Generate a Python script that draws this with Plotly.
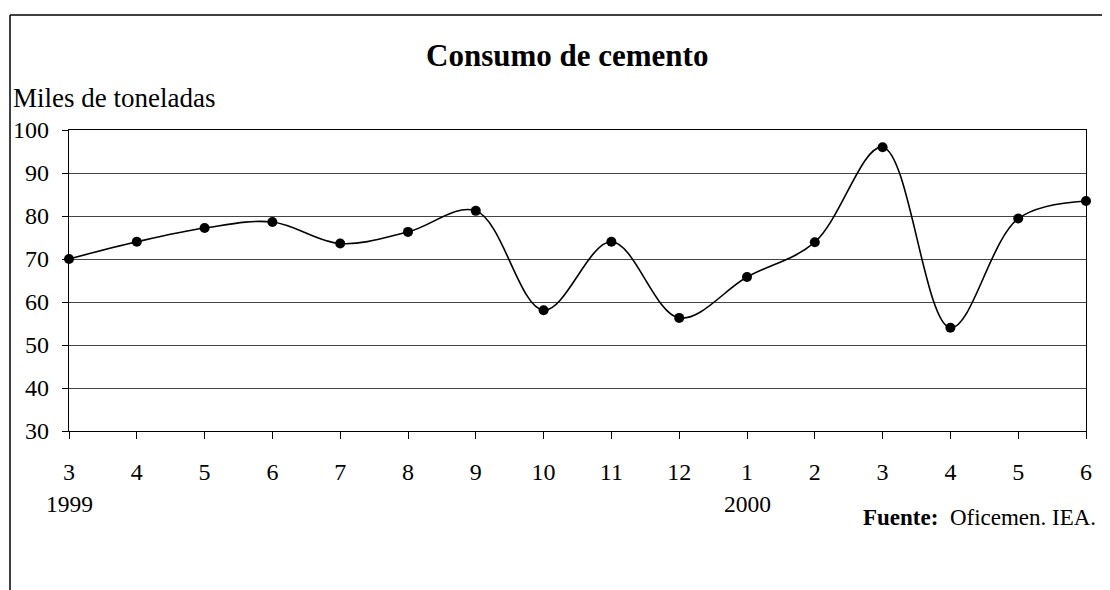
import plotly.graph_objects as go

month_labels = ["3", "4", "5", "6", "7", "8", "9", "10", "11", "12", "1", "2", "3", "4", "5", "6"]
consumo = [70.0, 74.0, 77.2, 78.6, 73.6, 76.3, 81.2, 58.1, 74.0, 56.3, 65.8, 73.9, 96.0, 54.0, 79.4, 83.5]
year_labels = [(0, "1999"), (10, "2000")]
y_ticks = [30, 40, 50, 60, 70, 80, 90, 100]

FONT = "Liberation Serif, Times New Roman, serif"
x_idx = list(range(len(month_labels)))

fig = go.Figure()
fig.add_trace(go.Scatter(
    x=x_idx, y=consumo, mode="lines+markers",
    line=dict(color="black", width=1.6, shape="spline", smoothing=1.0),
    marker=dict(color="black", size=10),
    cliponaxis=False, showlegend=False,
))

annotations = [
    dict(text="<b>Consumo de cemento</b>", x=0.49, y=1.0, xref="paper", yref="paper",
         yshift=75, showarrow=False, font=dict(family=FONT, size=31, color="black"),
         xanchor="center", yanchor="middle"),
    dict(text="Miles de toneladas", x=0, y=1.0, xref="paper", yref="paper",
         xshift=-58, yshift=32, showarrow=False, font=dict(family=FONT, size=27, color="black"),
         xanchor="left", yanchor="middle"),
    dict(text="<b>Fuente:</b>  Oficemen. IEA.", x=1.0, y=0, xref="paper", yref="paper",
         xshift=12, yshift=-86, showarrow=False, font=dict(family=FONT, size=23, color="black"),
         xanchor="right", yanchor="middle"),
]
for xi, yl in year_labels:
    annotations.append(dict(text=yl, x=xi, y=0, xref="x", yref="paper", yshift=-73,
                            showarrow=False, font=dict(family=FONT, size=23.5, color="black"),
                            xanchor="center", yanchor="middle"))

fig.update_layout(
    width=1102, height=582,
    margin=dict(l=61, r=24, t=122, b=159, autoexpand=False),
    paper_bgcolor="white", plot_bgcolor="white",
    font=dict(family=FONT, size=24, color="black"),
    annotations=annotations,
    shapes=[
        dict(type="line", xref="paper", yref="paper", x0=-0.058, x1=1.05,
             y0=1.382, y1=1.382, line=dict(color="black", width=1.5)),
        dict(type="line", xref="paper", yref="paper", x0=-0.058, x1=-0.058,
             y0=1.382, y1=-0.6, line=dict(color="black", width=1.5)),
    ],
)
fig.update_xaxes(
    range=[0, 15], tickvals=x_idx, ticktext=month_labels,
    showgrid=False, zeroline=False, automargin=False,
    showline=True, linecolor="black", linewidth=1.2, mirror=True,
    ticks="outside", ticklen=7, tickcolor="black", ticklabelstandoff=12,
    tickfont=dict(family=FONT, size=24, color="black"),
)
fig.update_yaxes(
    range=[30, 100], tickvals=y_ticks,
    showgrid=True, gridcolor="#444444", gridwidth=1, zeroline=False, automargin=False,
    showline=True, linecolor="black", linewidth=1.2, mirror=True,
    ticks="outside", ticklen=6, tickcolor="black", ticklabelstandoff=8,
    tickfont=dict(family=FONT, size=24, color="black"),
)

fig.write_html("out.html")
